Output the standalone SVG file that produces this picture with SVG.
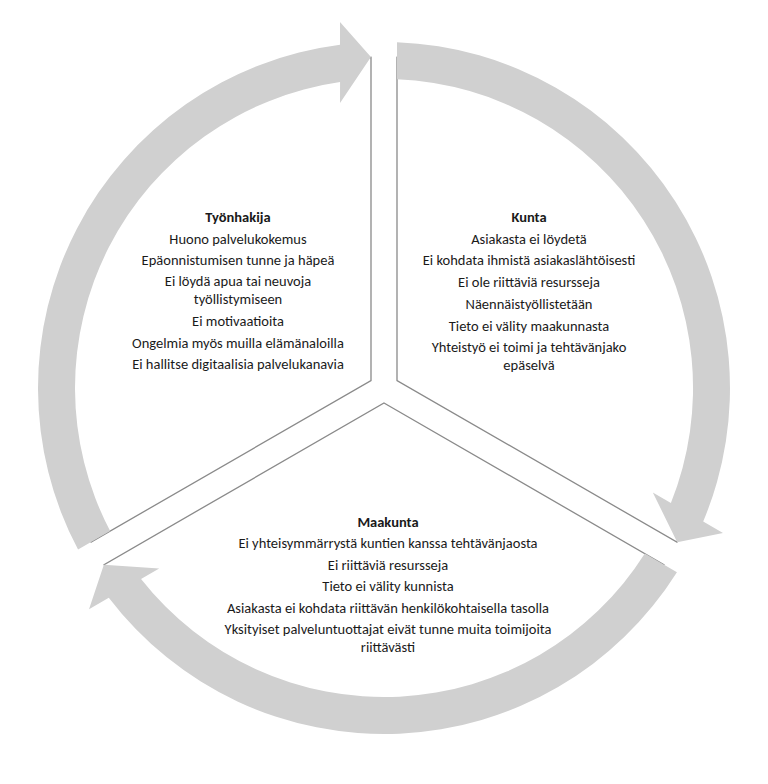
<svg xmlns="http://www.w3.org/2000/svg" xmlns:xlink="http://www.w3.org/1999/xlink" width="768" height="784" viewBox="0 0 768 784">
<style>
.sector{fill:#ffffff;stroke:#8a8a8a;stroke-width:1.3}
.ring{fill:#d0d0d0}
text{font-family:Carlito,Calibri,Lato,"Liberation Sans",sans-serif;font-size:14.5px;fill:#1a1a1a;text-anchor:middle}
.h{font-weight:bold}
</style>
<defs>
<path id="arrow" d="M 397 42.24 A 346 346 0 0 1 703.2 521.5 L 723 532.9 L 677.2 542.2 L 652.8 492.4 L 670.9 502.9 A 309 309 0 0 0 397 79.3 Z"/>
</defs>
<rect width="768" height="784" fill="#ffffff"/>
<g id="node-tyonhakija">
<path class="sector" d="M 371 380.5 L 371 57.3 A 331 331 0 0 0 91.1 542.1 Z"/>
<text class="h" x="238" y="222">Työnhakija</text>
<text x="238" y="244">Huono palvelukokemus</text>
<text x="238" y="265">Epäonnistumisen tunne ja häpeä</text>
<text x="238" y="286">Ei löydä apua tai neuvoja</text>
<text x="238" y="304">työllistymiseen</text>
<text x="238" y="326">Ei motivaatioita</text>
<text x="238" y="348">Ongelmia myös muilla elämänaloilla</text>
<text x="238" y="369">Ei hallitse digitaalisia palvelukanavia</text>
</g>
<g id="node-kunta">
<path class="sector" d="M 397 380.5 L 397 57.3 A 331 331 0 0 1 676.9 542.1 Z"/>
<text class="h" x="529" y="222">Kunta</text>
<text x="529" y="244">Asiakasta ei löydetä</text>
<text x="529" y="265">Ei kohdata ihmistä asiakaslähtöisesti</text>
<text x="529" y="287">Ei ole riittäviä resursseja</text>
<text x="529" y="309">Näennäistyöllistetään</text>
<text x="529" y="331">Tieto ei välity maakunnasta</text>
<text x="529" y="352">Yhteistyö ei toimi ja tehtävänjako</text>
<text x="529" y="370">epäselvä</text>
</g>
<g id="node-maakunta">
<path class="sector" d="M 384 403 L 663.9 564.6 A 331 331 0 0 1 104.1 564.6 Z"/>
<text class="h" x="388" y="527">Maakunta</text>
<text x="388" y="548">Ei yhteisymmärrystä kuntien kanssa tehtävänjaosta</text>
<text x="388" y="570">Ei riittäviä resursseja</text>
<text x="388" y="591">Tieto ei välity kunnista</text>
<text x="388" y="613">Asiakasta ei kohdata riittävän henkilökohtaisella tasolla</text>
<text x="388" y="634">Yksityiset palveluntuottajat eivät tunne muita toimijoita</text>
<text x="388" y="652">riittävästi</text>
</g>
<g id="connectors">
<use class="ring" xlink:href="#arrow"/>
<use class="ring" xlink:href="#arrow" transform="rotate(120 384 388)"/>
<use class="ring" xlink:href="#arrow" transform="rotate(240 384 388)"/>
</g>
</svg>
